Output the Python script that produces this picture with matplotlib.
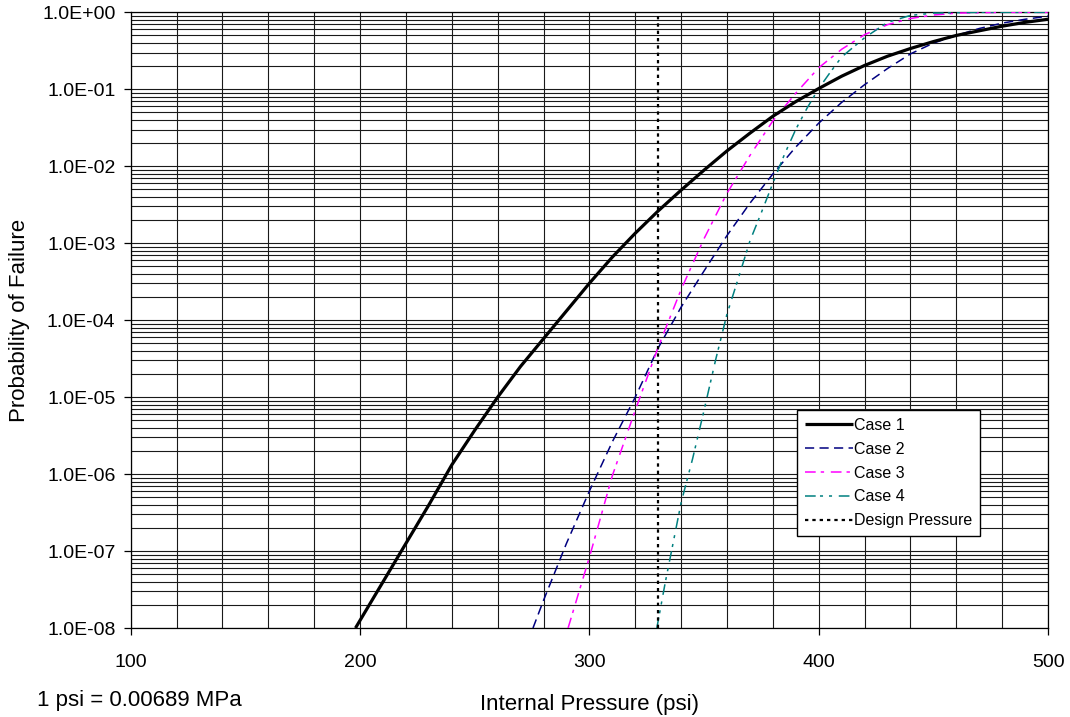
import numpy as np
import matplotlib
matplotlib.use("Agg")
from matplotlib import pyplot as plt
from matplotlib.ticker import FixedLocator, FuncFormatter, LogLocator, NullFormatter

plt.rcParams["font.family"] = ["Liberation Sans", "DejaVu Sans"]

# pressure (psi) and log10(probability of failure)
case1_psi = [198, 210, 220, 230, 240, 250, 260, 270, 280, 290, 300, 310, 320, 330, 340,
             350, 360, 370, 380, 390, 400, 410, 420, 430, 440, 450, 460, 470, 480, 490, 500]
case1_log = [-8.0, -7.4, -6.9, -6.4, -5.88, -5.43, -5.0, -4.6, -4.24, -3.88, -3.52, -3.18,
             -2.87, -2.58, -2.31, -2.05, -1.8, -1.57, -1.35, -1.16, -0.99, -0.83, -0.69,
             -0.57, -0.47, -0.38, -0.30, -0.24, -0.18, -0.13, -0.09]

case2_psi = [275.4, 280, 290, 300, 310, 320, 330, 340, 350, 360, 370, 380, 390, 400, 410,
             420, 430, 440, 450, 460, 470, 480, 490, 500]
case2_log = [-8.0, -7.64, -6.9, -6.22, -5.58, -5.0, -4.36, -3.83, -3.36, -2.9, -2.48, -2.1,
             -1.75, -1.44, -1.17, -0.94, -0.73, -0.54, -0.4, -0.3, -0.21, -0.14, -0.09, -0.05]

case3_psi = [290.7, 300, 310, 320, 330, 340, 350, 360, 370, 380, 390, 400, 410, 420, 430,
             440, 450, 460, 480, 500]
case3_log = [-8.0, -7.08, -6.02, -5.17, -4.35, -3.6, -2.94, -2.35, -1.86, -1.41, -1.05,
             -0.72, -0.48, -0.29, -0.16, -0.08, -0.035, -0.01, 0, 0]

case4_psi = [329.4, 333, 340, 345, 350, 355, 360, 365, 370, 375, 380, 385, 390, 395, 400,
             405, 410, 420, 430, 440, 450, 470, 500]
case4_log = [-8.0, -7.42, -6.37, -5.8, -5.17, -4.52, -3.92, -3.45, -2.97, -2.6, -2.22, -1.85,
             -1.52, -1.24, -0.99, -0.78, -0.58, -0.33, -0.13, -0.04, -0.01, 0, 0]

design_psi = [330, 330]
design_prob = [1e-8, 1.0]

x_ticks = [100, 200, 300, 400, 500]
x_grid = list(range(100, 501, 20))
y_ticks = [1e-8, 1e-7, 1e-6, 1e-5, 1e-4, 1e-3, 1e-2, 1e-1, 1e0]


def to_prob(logs):
    return 10.0 ** np.array(logs)


fig = plt.figure(figsize=(10.7, 7.17), dpi=100)
ax = fig.add_axes([0.1222, 0.1241, 0.8573, 0.8587])

ax.plot(case1_psi, to_prob(case1_log), color="black", lw=2.3, label="Case 1",
        solid_capstyle="butt", zorder=5)
ax.plot(case2_psi, to_prob(case2_log), color="#000080", lw=1.1,
        linestyle=(0, (6, 3.5)), label="Case 2", zorder=4)
ax.plot(case3_psi, to_prob(case3_log), color="#FF00FF", lw=1.1,
        linestyle=(0, (7, 3.3, 2.2, 4.4)), label="Case 3", zorder=4)
ax.plot(case4_psi, to_prob(case4_log), color="#008080", lw=1.1,
        linestyle=(0, (7, 2.8, 2, 3.9, 2, 4.4)), label="Case 4", zorder=4)
ax.plot(design_psi, design_prob, color="black", lw=1.6,
        linestyle=(0, (1.5, 1.8)), label="Design Pressure", zorder=4)

ax.set_yscale("log")
ax.set_xlim(100, 500)
ax.set_ylim(1e-8, 1.0)

# ticks: labelled majors, unlabelled grid every 20 psi / 2..9 per decade
ax.xaxis.set_major_locator(FixedLocator(x_ticks))
ax.xaxis.set_minor_locator(FixedLocator(x_grid))
ax.yaxis.set_major_locator(FixedLocator(y_ticks))
ax.yaxis.set_minor_locator(LogLocator(base=10, subs=np.arange(2, 10), numticks=20))
ax.yaxis.set_minor_formatter(NullFormatter())
ax.yaxis.set_major_formatter(FuncFormatter(
    lambda v, p: "1.0E{:+03d}".format(int(round(np.log10(v))))))

ax.tick_params(which="major", direction="out", length=5, width=0.9, color="black",
               labelsize=14)
ax.tick_params(axis="x", which="major", pad=14)
ax.tick_params(axis="y", which="major", pad=6)
ax.tick_params(which="minor", length=0)

ax.grid(True, which="both", axis="both", color="#1a1a1a", lw=0.8)
ax.set_axisbelow(True)
for s in ax.spines.values():
    s.set_color("black")
    s.set_linewidth(0.9)

fig.text(25 / 1070, 1 - 320 / 717, "Probability of Failure", rotation=90,
         rotation_mode="anchor", ha="center", va="baseline", fontsize=16)
fig.text(589 / 1070, 1 - 710 / 717, "Internal Pressure (psi)", ha="center",
         va="baseline", fontsize=16)
fig.text(37 / 1070, 1 - 706 / 717, "1 psi = 0.00689 MPa", ha="left",
         va="baseline", fontsize=16)

leg = ax.legend(loc="upper left", bbox_to_anchor=(0.7264, 0.354), fontsize=11.5,
                frameon=True, fancybox=False, framealpha=1, edgecolor="black",
                handlelength=3.0, handletextpad=0.05, labelspacing=0.55,
                borderpad=0.5, borderaxespad=0)
leg.get_frame().set_linewidth(1.0)
leg.set_zorder(10)

fig.savefig("out.png", dpi=100)
